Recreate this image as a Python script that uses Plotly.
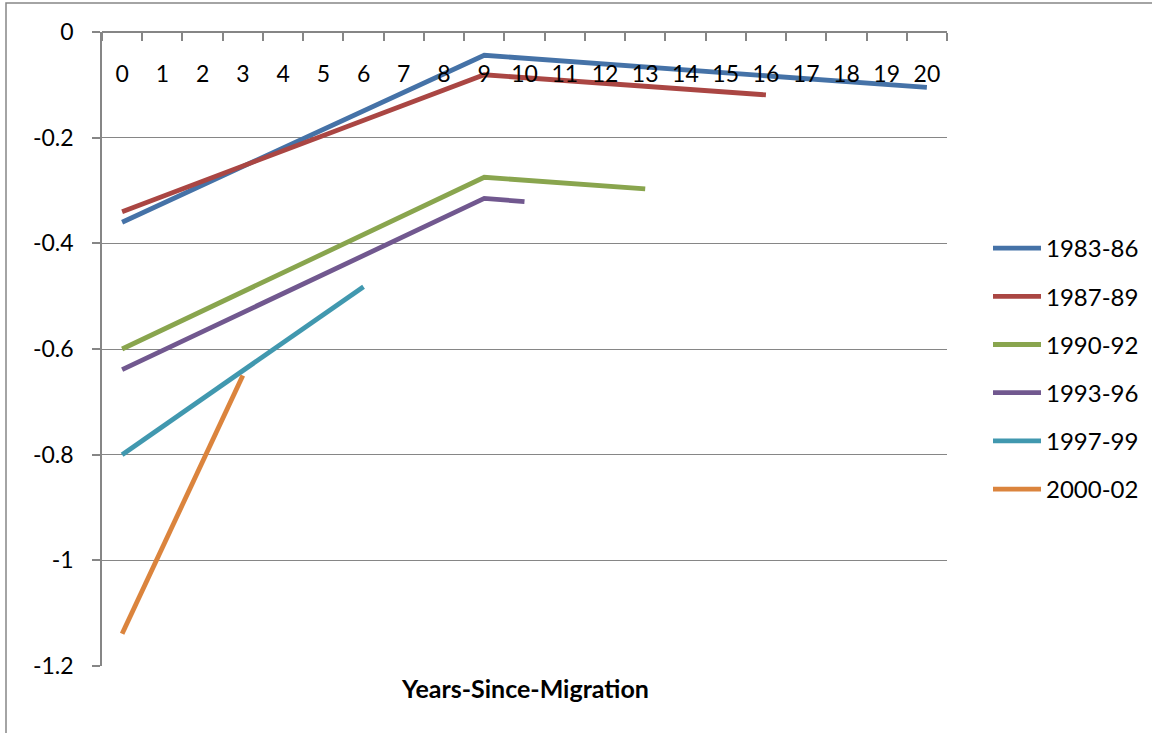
import plotly.graph_objects as go

# Years-since-migration categories shown on the x axis
years = [str(i) for i in range(21)]

# Arrival cohorts and the break points of each profile
cohorts = ["1983-86", "1987-89", "1990-92", "1993-96", "1997-99", "2000-02"]
x_1983_86 = ["0", "9", "20"]
y_1983_86 = [-0.36, -0.044, -0.105]
x_1987_89 = ["0", "9", "16"]
y_1987_89 = [-0.34, -0.081, -0.119]
x_1990_92 = ["0", "9", "13"]
y_1990_92 = [-0.60, -0.275, -0.297]
x_1993_96 = ["0", "9", "10"]
y_1993_96 = [-0.639, -0.315, -0.321]
x_1997_99 = ["0", "6"]
y_1997_99 = [-0.80, -0.482]
x_2000_02 = ["0", "3"]
y_2000_02 = [-1.139, -0.65]

y_ticks = [0, -0.2, -0.4, -0.6, -0.8, -1, -1.2]
y_tick_labels = ["0", "-0.2", "-0.4", "-0.6", "-0.8", "-1", "-1.2"]

colors = ["#4572A7", "#AA4643", "#89A54E", "#71588F", "#4198AF", "#DB843D"]
series_x = [x_1983_86, x_1987_89, x_1990_92, x_1993_96, x_1997_99, x_2000_02]
series_y = [y_1983_86, y_1987_89, y_1990_92, y_1993_96, y_1997_99, y_2000_02]

FONT = "Lato"
GRAY = "#868686"

W, H = 1152, 733
L, R, T, B = 102, 1152 - 947, 32, 733 - 666
pw, ph = W - L - R, H - T - B

def px_x(p):
    return (p - L) / pw

def px_y(p):
    return (H - B - p) / ph

fig = go.Figure()
for name, xs, ys, c in zip(cohorts, series_x, series_y, colors):
    fig.add_trace(go.Scatter(
        x=xs, y=ys, name=name, mode="lines", legendgroup=name,
        line=dict(color=c, width=4.8),
    ))

fig.update_layout(
    width=W, height=H,
    margin=dict(l=L, r=R, t=T, b=B, autoexpand=False),
    paper_bgcolor="white", plot_bgcolor="white",
    font=dict(family=FONT, size=23, color="black"),
    showlegend=True,
    legend=dict(
        x=px_x(988), y=px_y(369), xanchor="left", yanchor="middle",
        font=dict(family=FONT, size=24),
        itemwidth=48, tracegroupgap=14, bgcolor="rgba(0,0,0,0)",
    ),
    # category axis crossing the value axis at 0, labels hanging below it
    xaxis=dict(
        type="category", categoryorder="array", categoryarray=years,
        range=[-0.5, 20.5], anchor="free", position=1.0, side="bottom",
        tickmode="array", tickvals=years, ticktext=years,
        ticks="outside", tickson="boundaries", ticklen=8, tickcolor=GRAY, tickwidth=1.5,
        ticklabelstandoff=22,
        showline=True, linecolor=GRAY, linewidth=1.5,
        showgrid=False, zeroline=False, automargin=False,
    ),
    yaxis=dict(
        range=[-1.2, 0], tickmode="array", tickvals=y_ticks, ticktext=y_tick_labels,
        ticks="outside", ticklen=8, tickcolor=GRAY, tickwidth=1.5,
        ticklabelstandoff=14, automargin=False,
        showline=True, linecolor=GRAY, linewidth=1.5,
        showgrid=True, gridcolor=GRAY, gridwidth=1.2, zeroline=False,
    ),
    shapes=[
        # outer chart border
        dict(type="rect", xref="paper", yref="paper",
             x0=px_x(6), x1=px_x(1170), y0=px_y(750), y1=px_y(3),
             line=dict(color=GRAY, width=1.5), fillcolor="rgba(0,0,0,0)", layer="below"),
    ],
    annotations=[
        dict(text="<b>Years-Since-Migration</b>", xref="paper", yref="paper",
             x=0.5, y=px_y(688), xanchor="center", yanchor="middle",
             showarrow=False, font=dict(family=FONT, size=25, color="black")),
    ],
)

fig.write_html("out.html")
